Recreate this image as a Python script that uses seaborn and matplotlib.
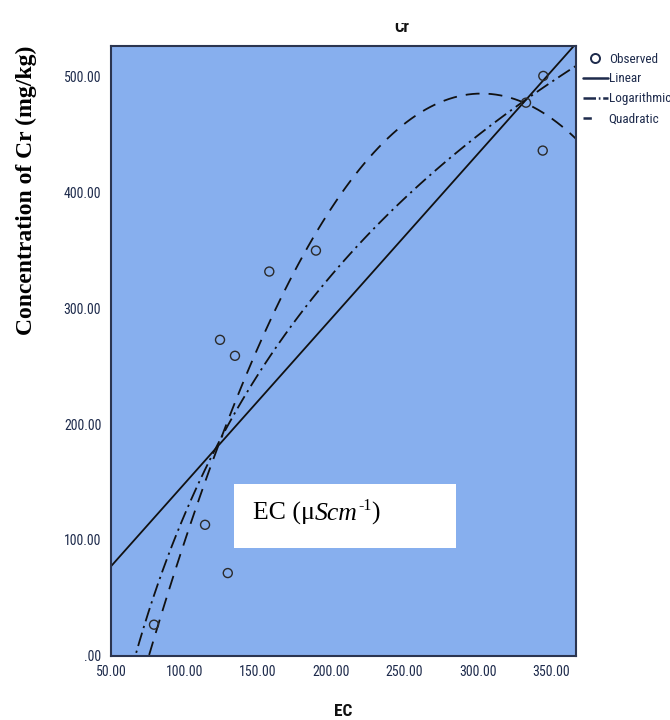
import matplotlib
matplotlib.use("Agg")
import matplotlib.pyplot as plt
from matplotlib import font_manager
import numpy as np
import pandas as pd
import seaborn as sns
from matplotlib.patches import Rectangle
from matplotlib.lines import Line2D

# Observed electrical conductivity (EC) and Cr concentration
ec = [79.3, 114.1, 129.6, 124.3, 134.5, 157.9, 189.7, 332.9, 344.7, 344.3]
cr = [26.8, 113.1, 71.4, 272.9, 259.1, 331.9, 350.0, 477.8, 500.9, 436.4]

x_ticks = [50, 100, 150, 200, 250, 300, 350]
x_tick_labels = ["50.00", "100.00", "150.00", "200.00", "250.00", "300.00", "350.00"]
y_ticks = [0, 100, 200, 300, 400, 500]
y_tick_labels = [".00", "100.00", "200.00", "300.00", "400.00", "500.00"]
legend_labels = ["Observed", "Linear", "Logarithmic", "Quadratic"]

df = pd.DataFrame({"EC": ec, "Cr": cr})

# Prefer a narrow sans face when one is installed
installed = {f.name for f in font_manager.fontManager.ttflist}
narrow_candidates = ["Liberation Sans Narrow", "Arial Narrow", "DejaVu Sans Condensed",
                     "Roboto Condensed", "Open Sans Condensed"]
narrow = next((n for n in narrow_candidates if n in installed), None)
sans = [narrow, "Liberation Sans", "DejaVu Sans"] if narrow else ["Liberation Sans", "DejaVu Sans"]
small = 0 if narrow else 1  # shrink text a little when only a regular-width face exists

sns.set_style("white")
plt.rcParams["font.family"] = sans
plt.rcParams["lines.scale_dashes"] = False

navy = "#1e2b4c"
bg = "#87AFEE"

fig = plt.figure(figsize=(6.7, 7.2), dpi=100)
ax = fig.add_axes([0.1657, 0.0893, 0.6936, 0.8472])
ax.set_facecolor(bg)
ax.set_xlim(50, 366.8)
ax.set_ylim(0, 527)

dash_quad = (10, 6.5)
dash_log = (10, 3.5, 1.6, 3.5)

sns.regplot(data=df, x="EC", y="Cr", ax=ax, scatter=False, ci=None, truncate=False,
            line_kws=dict(color="#111111", lw=1.3))
sns.regplot(data=df, x="EC", y="Cr", ax=ax, scatter=False, ci=None, truncate=False,
            logx=True, line_kws=dict(color="#111111", lw=1.3, dashes=dash_log))
sns.regplot(data=df, x="EC", y="Cr", ax=ax, scatter=False, ci=None, truncate=False,
            order=2, line_kws=dict(color="#111111", lw=1.3, dashes=dash_quad))
sns.scatterplot(data=df, x="EC", y="Cr", ax=ax, marker="o", s=42,
                facecolor="none", edgecolor="#2a2a2a", linewidth=1.0, zorder=5)

ax.set_xlim(50, 366.8)
ax.set_ylim(0, 527)
ax.set_xticks(x_ticks)
ax.set_xticklabels(x_tick_labels)
ax.set_yticks(y_ticks)
ax.set_yticklabels(y_tick_labels)
ax.tick_params(axis="both", direction="out", length=5, width=1.3, color=navy,
               labelsize=10 - 0.8 * small, labelcolor=navy, pad=2)
ax.set_xlabel("")
ax.set_ylabel("")
for s in ax.spines.values():
    s.set_color("#2b3550")
    s.set_linewidth(1.5)

# Axis titles
fig.text(0.512, 1 - 711 / 720, "EC", ha="center", va="center", fontsize=12.5,
         fontweight="bold", color="#111111")
fig.text(0.040, 0.735, "Concentration of Cr (mg/kg)", rotation=90, ha="center", va="center",
         fontsize=17, fontweight="bold", family="Liberation Serif", color="#000000")

# Chart title, its upper half trimmed by the page edge band
fig.text(0.600, 0.952, "Cr", ha="center", va="bottom", fontsize=12, fontweight="bold",
         color="#111111")
fig.add_artist(Rectangle((0.5, 0.968), 0.2, 0.04, transform=fig.transFigure,
                         facecolor="white", edgecolor="none", zorder=10))

# Unit box with EC (μScm-1)
fig.add_artist(Rectangle((234 / 670, 1 - 548 / 720), 222 / 670, 64 / 720,
                         transform=fig.transFigure, facecolor="white",
                         edgecolor="none", zorder=8))
serif = dict(family="Liberation Serif", color="#000000", zorder=9)
base_y = 1 - 520 / 720
t1 = fig.text(253 / 670, base_y, "EC (μ", ha="left", va="baseline", fontsize=18.5, **serif)
t2 = fig.text(0, 0, "Scm", fontsize=18.5, style="italic", ha="left", va="baseline", **serif)
t3 = fig.text(0, 0, "-1", fontsize=11.5, ha="left", va="baseline", **serif)
t4 = fig.text(0, 0, ")", fontsize=18.5, ha="left", va="baseline", **serif)
fig.canvas.draw()
r = fig.canvas.get_renderer()
inv = fig.transFigure.inverted()


def place_after(prev, nxt, y, gap_px=0.0):
    bb = prev.get_window_extent(r)
    x1 = inv.transform((bb.x1 + gap_px, 0))[0]
    nxt.set_position((x1, y))


place_after(t1, t2, base_y)
place_after(t2, t3, base_y + 10 / 720, gap_px=0.5)
place_after(t3, t4, base_y)

# Legend
handles = [
    Line2D([], [], linestyle="none", marker="o", markersize=6.5, markerfacecolor="none",
           markeredgecolor=navy, markeredgewidth=1.4),
    Line2D([], [], color=navy, lw=1.8),
    Line2D([], [], color=navy, lw=1.8, dashes=(9, 2, 1.2, 2)),
    Line2D([], [], color=navy, lw=1.8, dashes=(6, 20)),
]
fig.legend(handles, legend_labels, loc="upper left", bbox_to_anchor=(0.870, 0.927),
           frameon=False, fontsize=9.5 - 1.2 * small, handlelength=1.9, handletextpad=0.05,
           labelspacing=0.52, labelcolor=navy, borderaxespad=0, borderpad=0)

fig.savefig("out.png", dpi=100)
